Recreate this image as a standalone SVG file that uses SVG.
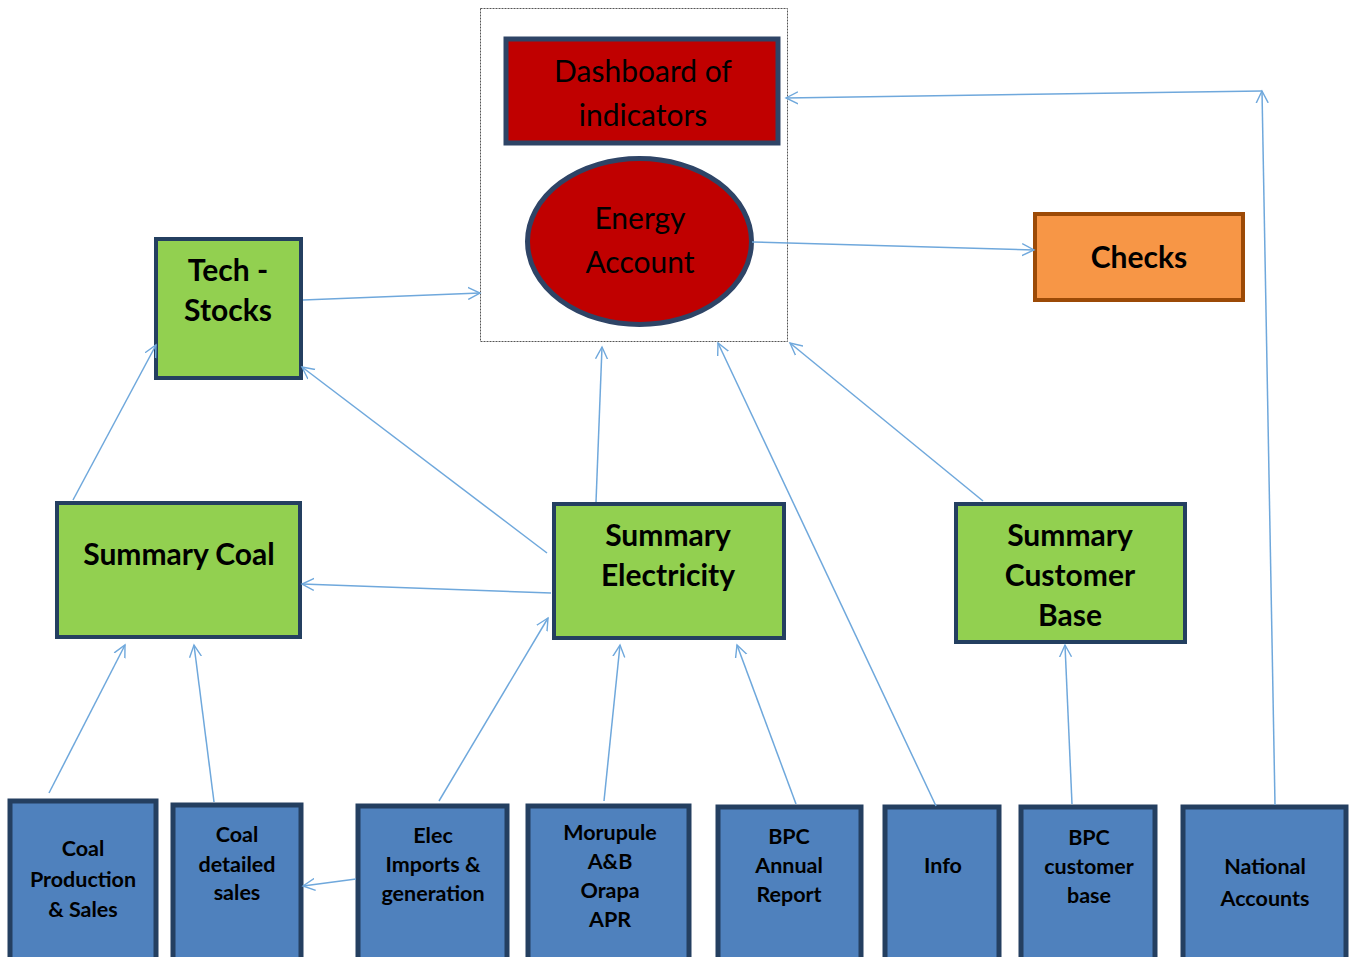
<svg xmlns="http://www.w3.org/2000/svg" width="1356" height="957" viewBox="0 0 1356 957">
<defs>
<marker id="arr" markerUnits="userSpaceOnUse" markerWidth="14" markerHeight="14" refX="12" refY="6" orient="auto" viewBox="0 0 14 12">
<path d="M0,0 L12,6 L0,12" fill="none" stroke="#6FA8DC" stroke-width="1.4"/>
</marker>
<style>
.c{stroke:#6FA8DC;stroke-width:1.5;fill:none;marker-end:url(#arr)}
.g{fill:#92D050;stroke:#243F60;stroke-width:4}
.b{fill:#4F81BD;stroke:#243F60;stroke-width:5}
.r{fill:#C00000;stroke:#2E4466;stroke-width:5}
.tg{font-family:Lato,"Open Sans","Liberation Sans",sans-serif;font-weight:bold;font-size:30px;fill:#000;text-anchor:middle}
.tb{font-family:Lato,"Open Sans","Liberation Sans",sans-serif;font-weight:bold;font-size:21.5px;fill:#000;text-anchor:middle}
.tr{font-family:Lato,"Open Sans","Liberation Sans",sans-serif;font-size:30px;fill:#000;text-anchor:middle}
</style>
</defs>
<rect width="1356" height="957" fill="#fff"/>
<g id="container"><rect x="480.5" y="8.5" width="307" height="333" fill="none" stroke="#555" stroke-width="1" stroke-dasharray="2,1"/></g>
<g id="dashboard"><rect class="r" x="506" y="39" width="272" height="104"/><text class="tr" x="643" y="82">Dashboard of</text><text class="tr" x="643" y="126">indicators</text></g>
<g id="energy"><ellipse class="r" cx="639.5" cy="241.5" rx="112" ry="83"/><text class="tr" x="640" y="229">Energy</text><text class="tr" x="640" y="273">Account</text></g>
<g id="checks"><rect x="1035" y="214" width="208" height="86" fill="#F79646" stroke="#9C4A06" stroke-width="4"/><text class="tg" x="1139" y="268">Checks</text></g>
<g id="tech"><rect class="g" x="156" y="239" width="145" height="139"/><text class="tg" x="228" y="281">Tech -</text><text class="tg" x="228" y="321">Stocks</text></g>
<g id="scoal"><rect class="g" x="57" y="503" width="243" height="134"/><text class="tg" x="179" y="565">Summary Coal</text></g>
<g id="selec"><rect class="g" x="554" y="504" width="230" height="134"/><text class="tg" x="668" y="546">Summary</text><text class="tg" x="668" y="586">Electricity</text></g>
<g id="scust"><rect class="g" x="956" y="504" width="229" height="138"/><text class="tg" x="1070" y="546">Summary</text><text class="tg" x="1070" y="586">Customer</text><text class="tg" x="1070" y="626">Base</text></g>
<g id="coalprod"><rect class="b" x="10" y="801" width="146" height="170"/><text class="tb" x="83" y="856">Coal</text><text class="tb" x="83" y="887">Production</text><text class="tb" x="83" y="917">&amp; Sales</text></g>
<g id="coaldet"><rect class="b" x="173" y="805" width="128" height="166"/><text class="tb" x="237" y="842">Coal</text><text class="tb" x="237" y="872">detailed</text><text class="tb" x="237" y="900">sales</text></g>
<g id="elec"><rect class="b" x="358" y="806" width="149" height="165"/><text class="tb" x="433" y="843">Elec</text><text class="tb" x="433" y="872">Imports &amp;</text><text class="tb" x="433" y="901">generation</text></g>
<g id="morupule"><rect class="b" x="528" y="806" width="161" height="165"/><text class="tb" x="610" y="840">Morupule</text><text class="tb" x="610" y="869">A&amp;B</text><text class="tb" x="610" y="898">Orapa</text><text class="tb" x="610" y="927">APR</text></g>
<g id="bpcannual"><rect class="b" x="718" y="807" width="143" height="164"/><text class="tb" x="789" y="844">BPC</text><text class="tb" x="789" y="873">Annual</text><text class="tb" x="789" y="902">Report</text></g>
<g id="info"><rect class="b" x="885" y="807" width="114" height="164"/><text class="tb" x="943" y="873">Info</text></g>
<g id="bpccust"><rect class="b" x="1021" y="807" width="134" height="164"/><text class="tb" x="1089" y="845">BPC</text><text class="tb" x="1089" y="874">customer</text><text class="tb" x="1089" y="903">base</text></g>
<g id="national"><rect class="b" x="1183" y="807" width="163" height="164"/><text class="tb" x="1265" y="874">National</text><text class="tb" x="1265" y="906">Accounts</text></g>
<g id="connectors">
<line class="c" x1="303" y1="300" x2="480" y2="293"/>
<line class="c" x1="752" y1="242" x2="1034" y2="250"/>
<line class="c" x1="1275" y1="805" x2="1262" y2="91"/>
<line class="c" x1="1262" y1="91" x2="786" y2="98"/>
<line class="c" x1="73" y1="500" x2="156" y2="345"/>
<line class="c" x1="547" y1="553" x2="302" y2="367"/>
<line class="c" x1="551" y1="593" x2="302" y2="584"/>
<line class="c" x1="596" y1="502" x2="602" y2="347"/>
<line class="c" x1="936" y1="806" x2="718" y2="343"/>
<line class="c" x1="983" y1="501" x2="790" y2="343"/>
<line class="c" x1="49" y1="793" x2="125" y2="645"/>
<line class="c" x1="214" y1="802" x2="194" y2="645"/>
<line class="c" x1="356" y1="879" x2="303" y2="886"/>
<line class="c" x1="439" y1="801" x2="548" y2="618"/>
<line class="c" x1="604" y1="801" x2="620" y2="645"/>
<line class="c" x1="796" y1="804" x2="737" y2="645"/>
<line class="c" x1="1072" y1="804" x2="1065" y2="645"/>
</g>
</svg>
